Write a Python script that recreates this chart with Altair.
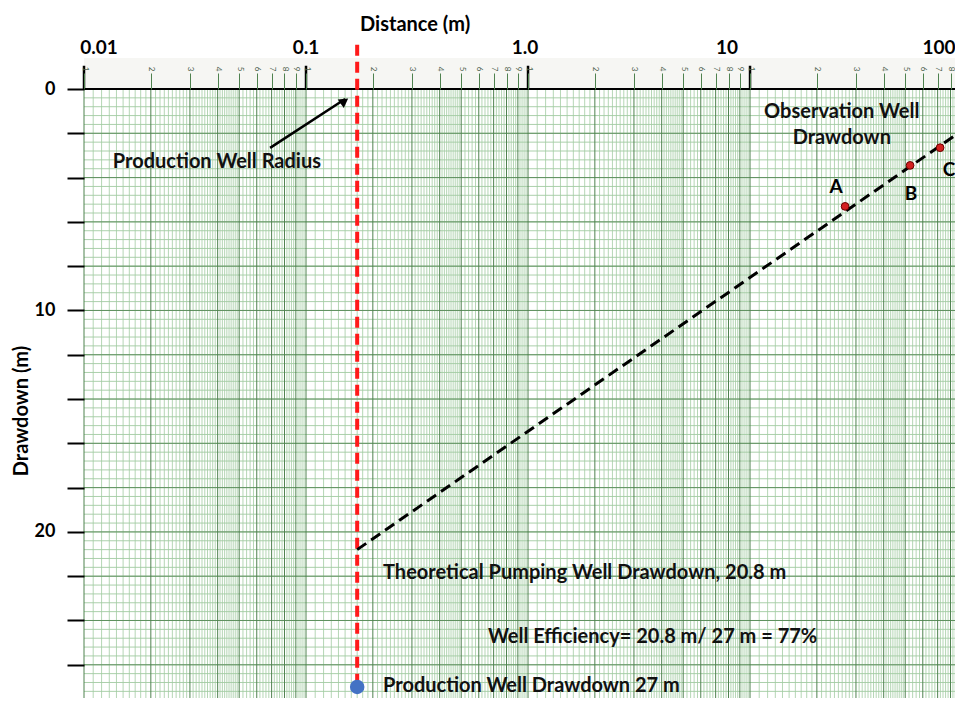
import altair as alt
import pandas as pd

# ---------------- data ----------------
XMAX = 83.8
decade_values = [0.01, 0.1, 1, 10, 100]
decade_labels = ["0.01", "0.1", "1.0", "10", "100"]
decade_dx = [15, 0, -3, -23, -33]

well_radius = 0.17
theoretical_drawdown = 20.8
production_drawdown = 27

obs_names = ["A", "B", "C"]
obs_distance = [26.8, 52.6, 71.8]
obs_drawdown = [5.3, 3.45, 2.65]
obs_label_dx = [-9, 1, 9]
obs_label_dy = [-19, 29, 22]

fit_distance = [0.17, 91]
fit_drawdown = [20.8, 1.85]

y_tick_values = list(range(0, 27, 2))

# graph-paper rulings
major_x = []
minor_x = []
for d in [0.01, 0.1, 1, 10]:
    for k in range(1, 10):
        major_x.append(round(d * k, 6))
    for t in list(range(11, 20)) + list(range(21, 50)) + list(range(52, 100, 2)):
        if t % 10 != 0:
            minor_x.append(round(d * t / 10, 6))
major_x.append(100)
axis_x_values = [v for v in major_x if v <= XMAX]
minor_y = [round(i * 0.4, 2) for i in range(0, 70)]
major_y = list(range(0, 28, 2))

FONT = "Lato"
xs = alt.Scale(type="log", domain=[0.01, XMAX], nice=False)
ys = alt.Scale(domain=[0, 27.5], reverse=True, nice=False)

top_axis = alt.Axis(
    orient="top", values=axis_x_values,
    labelExpr="round(datum.value / pow(10, floor(log(datum.value) / LN10 + 0.000001)))",
    labelAngle=90, labelFontSize=8, labelColor="#4d5f4d", labelFont=FONT,
    tickSize=16, tickColor="#4f824f", tickWidth=1, domain=False, grid=False,
    title=None, labelPadding=2, labelOverlap=False, labelFlush=False, zindex=1)
left_axis = alt.Axis(
    orient="left", values=y_tick_values,
    labelExpr="datum.value % 10 == 0 ? datum.label : ''",
    tickSize=17, tickColor="black", tickWidth=2, domain=False, grid=False, title=None,
    labelFontSize=18, labelFontWeight="bold", labelFont=FONT, labelPadding=12,
    labelColor="black", zindex=1)


def X(f):
    return alt.X(f, scale=xs, axis=top_axis)


def Y(f):
    return alt.Y(f, scale=ys, axis=left_axis)


# top band of the paper
band = alt.Chart(pd.DataFrame({"x": [0.01], "x2": [100], "y": [-1.4], "y2": [0]})).mark_rect(
    color="#f6f6f3", clip=False
).encode(x=X("x:Q"), x2="x2:Q", y=Y("y:Q"), y2="y2:Q")

vminor = alt.Chart(pd.DataFrame({"gx": minor_x})).mark_rule(
    color="#a2cba2", strokeWidth=0.8
).encode(x=X("gx:Q"))

hminor = alt.Chart(pd.DataFrame({"gy": minor_y})).mark_rule(
    color="#a2cba2", strokeWidth=0.9
).encode(y=Y("gy:Q"))

hmajor = alt.Chart(pd.DataFrame({"gy": major_y})).mark_rule(
    color="#5f905f", strokeWidth=1
).encode(y=Y("gy:Q"))

vmajor = alt.Chart(pd.DataFrame({"gx": major_x})).mark_rule(
    color="#4f824f", strokeWidth=1
).encode(x=X("gx:Q"))

top_line = alt.Chart(pd.DataFrame({"gy": [0]})).mark_rule(
    color="black", strokeWidth=2
).encode(y=Y("gy:Q"))

decade_ticks = alt.Chart(pd.DataFrame({"x": decade_values[:4], "y": [-1.05] * 4, "y2": [0] * 4})).mark_rule(
    color="black", strokeWidth=2.5, clip=False
).encode(x=X("x:Q"), y=Y("y:Q"), y2="y2:Q")

decade_text = []
for v, lab, dx in zip(decade_values, decade_labels, decade_dx):
    decade_text.append(alt.Chart(pd.DataFrame({"x": [v], "y": [-1.85], "t": [lab]})).mark_text(
        font=FONT, fontSize=19, fontWeight="bold", color="black", dx=dx, clip=False
    ).encode(x=X("x:Q"), y=Y("y:Q"), text="t:N"))

xtitle = alt.Chart(pd.DataFrame({"x": [0.31], "y": [-2.9], "t": ["Distance (m)"]})).mark_text(
    font=FONT, fontSize=20, fontWeight="bold", color="black", clip=False
).encode(x=X("x:Q"), y=Y("y:Q"), text="t:N")

ytitle = alt.Chart(pd.DataFrame({"t": ["Drawdown (m)"]})).mark_text(
    font=FONT, fontSize=20, fontWeight="bold", color="black", angle=270
).encode(x=alt.value(-62), y=alt.value(322), text="t:N")

red_line = alt.Chart(pd.DataFrame({"x": [well_radius, well_radius], "y": [-2.0, production_drawdown]})).mark_line(
    color="#ff1a1a", strokeWidth=4, strokeDash=[11, 6], clip=False
).encode(x=X("x:Q"), y=Y("y:Q"))

fit_line = alt.Chart(pd.DataFrame({"x": fit_distance, "y": fit_drawdown})).mark_line(
    color="black", strokeWidth=3, strokeDash=[11, 6], clip=True
).encode(x=X("x:Q"), y=Y("y:Q"))

obs_df = pd.DataFrame({"x": obs_distance, "y": obs_drawdown, "name": obs_names})
obs_pts = alt.Chart(obs_df).mark_circle(
    size=60, color="#d42020", stroke="#6a0000", strokeWidth=1, opacity=1
).encode(x=X("x:Q"), y=Y("y:Q"))

obs_text = []
for i in range(3):
    obs_text.append(alt.Chart(obs_df.iloc[[i]]).mark_text(
        font=FONT, fontSize=19, fontWeight="bold", color="black",
        dx=obs_label_dx[i], dy=obs_label_dy[i]
    ).encode(x=X("x:Q"), y=Y("y:Q"), text="name:N"))

blue_dot = alt.Chart(pd.DataFrame({"x": [well_radius], "y": [production_drawdown]})).mark_point(
    shape="circle", filled=True, size=210, color="#4472c4", opacity=1, clip=False
).encode(x=X("x:Q"), y=Y("y:Q"))

arrow_shaft = alt.Chart(pd.DataFrame({"x": [0.0689, 0.150], "y": [2.66, 0.45]})).mark_line(
    color="black", strokeWidth=2.5
).encode(x=X("x:Q"), y=Y("y:Q"))

arrow_head = alt.Chart(pd.DataFrame({"x": [0.149], "y": [0.55]})).mark_point(
    shape="triangle-up", filled=True, size=110, angle=54.5, color="black", opacity=1
).encode(x=X("x:Q"), y=Y("y:Q"))

ann = pd.DataFrame({
    "x": [0.0397, 25.9, 0.2223, 0.66, 0.2223],
    "y": [3.30, 1.04, 21.86, 24.75, 26.95],
    "t": ["Production Well Radius", "Observation Well\nDrawdown",
          "Theoretical Pumping Well Drawdown, 20.8 m",
          "Well Efficiency= 20.8 m/ 27 m = 77%",
          "Production Well Drawdown 27 m"],
    "a": ["center", "center", "left", "left", "left"],
})
ann_center = alt.Chart(ann[ann.a == "center"]).mark_text(
    font=FONT, fontSize=20, fontWeight="bold", color="#111111", align="center",
    lineBreak="\n", lineHeight=26
).encode(x=X("x:Q"), y=Y("y:Q"), text="t:N")
ann_left = alt.Chart(ann[ann.a == "left"]).mark_text(
    font=FONT, fontSize=20, fontWeight="bold", color="#111111", align="left"
).encode(x=X("x:Q"), y=Y("y:Q"), text="t:N")

chart = alt.layer(
    band, vminor, hminor, hmajor, vmajor, top_line, decade_ticks, *decade_text,
    xtitle, ytitle, red_line, fit_line, obs_pts, *obs_text, blue_dot,
    arrow_shaft, arrow_head, ann_center, ann_left
).properties(
    width=871, height=609,
    autosize=alt.AutoSizeParams(type="none"),
    padding={"left": 76, "top": 81, "right": 0, "bottom": 0},
    background="white"
).configure_view(stroke=None)

chart.save("out.html", embed_options={"renderer": "svg", "actions": False})
